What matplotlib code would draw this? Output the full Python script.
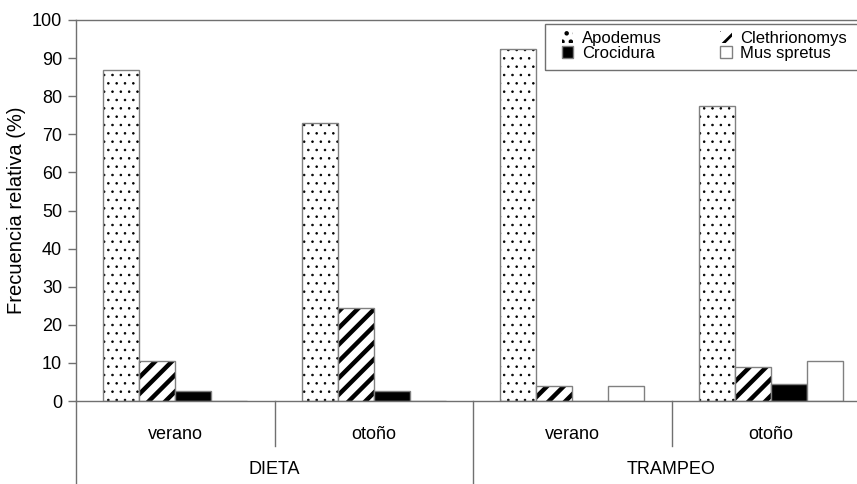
import numpy as np
import matplotlib
matplotlib.use('Agg')
import matplotlib.pyplot as plt
from matplotlib.patches import Patch, Rectangle

plt.rcParams['font.family'] = ['Liberation Sans', 'DejaVu Sans']

###############################################################################

seasons = ['verano', 'otoño', 'verano', 'otoño']
sources = ['DIETA', 'TRAMPEO']

species = ['Apodemus', 'Clethrionomys', 'Crocidura', 'Mus spretus']

# Relative frequency (%) per group: DIETA verano, DIETA otono,
# TRAMPEO verano, TRAMPEO otono
apodemus = [87, 73, 92.5, 77.5]
clethrionomys = [10.5, 24.5, 4, 9]
crocidura = [2.5, 2.5, 0, 4.5]
mus_spretus = [0, 0, 4, 10.5]

###############################################################################

line_col = '#707070'
edge_col = '#808080'

fig = plt.figure(figsize=(8.57, 4.84), dpi=100)
ax = fig.add_axes([76 / 857, 83 / 484, 794 / 857, 381 / 484])

x = np.arange(len(seasons))
width = 36 / 198.5

styles = [
    dict(facecolor='white', hatch='..', hlw=0.6),
    dict(facecolor='white', hatch='//', hlw=3.2),
    dict(facecolor='black', hatch=None, hlw=1.0),
    dict(facecolor='white', hatch=None, hlw=1.0),
]
all_vals = [apodemus, clethrionomys, crocidura, mus_spretus]

for ii, (vals, st) in enumerate(zip(all_vals, styles)):
    pos = x + (ii - 1.5) * width
    # fill + black hatch first, then the grey outline on top
    with plt.rc_context({'hatch.linewidth': st['hlw']}):
        ax.bar(pos, vals, width, facecolor=st['facecolor'],
               edgecolor='black', hatch=st['hatch'], linewidth=0)
    ax.bar(pos, vals, width, facecolor='none', edgecolor=edge_col,
           linewidth=1.0)

ax.set_xlim(-0.5, 3.5)
ax.set_ylim(0, 100)
ax.set_yticks(np.arange(0, 101, 10))
ax.set_xticks([])
ax.tick_params(axis='y', labelsize=13, length=6, width=1,
               color=line_col, pad=4)
ax.set_ylabel('Frecuencia relativa (%)', fontsize=14.5, labelpad=4)

for side in ['left', 'bottom', 'top']:
    ax.spines[side].set_color(line_col)
    ax.spines[side].set_linewidth(1.0)
ax.spines['right'].set_visible(False)

# Category structure below the axis
trans = ax.get_xaxis_transform()
for xs in [-0.5, 1.5]:
    ax.plot([xs, xs], [0, -0.218], color=line_col, lw=1.0,
            transform=trans, clip_on=False)
for xs in [0.5, 2.5]:
    ax.plot([xs, xs], [0, -0.118], color=line_col, lw=1.0,
            transform=trans, clip_on=False)

for xi, lab in zip(x, seasons):
    ax.text(xi, -0.087, lab, transform=trans, ha='center', va='center',
            fontsize=13)
for xi, lab in zip([0.5, 2.5], sources):
    ax.text(xi, -0.181, lab, transform=trans, ha='center', va='center',
            fontsize=13)

# Legend
order = [0, 2, 1, 3]
handles = []
for i in order:
    st = styles[i]
    with plt.rc_context({'hatch.linewidth': st['hlw']}):
        if st['hatch']:
            h = Patch(facecolor=st['facecolor'], edgecolor='black',
                      hatch=st['hatch'], linewidth=0, label=species[i])
        else:
            h = Patch(facecolor=st['facecolor'], edgecolor=edge_col,
                      linewidth=1.0, label=species[i])
    handles.append(h)

with plt.rc_context({'hatch.linewidth': 2.0}):
    leg = ax.legend(handles=handles, ncol=2, loc='upper left',
                    bbox_to_anchor=(0.595, 1.006), frameon=False,
                    fontsize=12, handlelength=0.7, handleheight=0.7,
                    handletextpad=0.5, columnspacing=3.5,
                    labelspacing=0.0, borderpad=0.3)
ax.add_patch(Rectangle((0.5907, 0.869), 0.45, 0.1205, transform=ax.transAxes,
                       facecolor='none', edgecolor=line_col, lw=1.0,
                       clip_on=False))

fig.savefig('out.png', dpi=100)
